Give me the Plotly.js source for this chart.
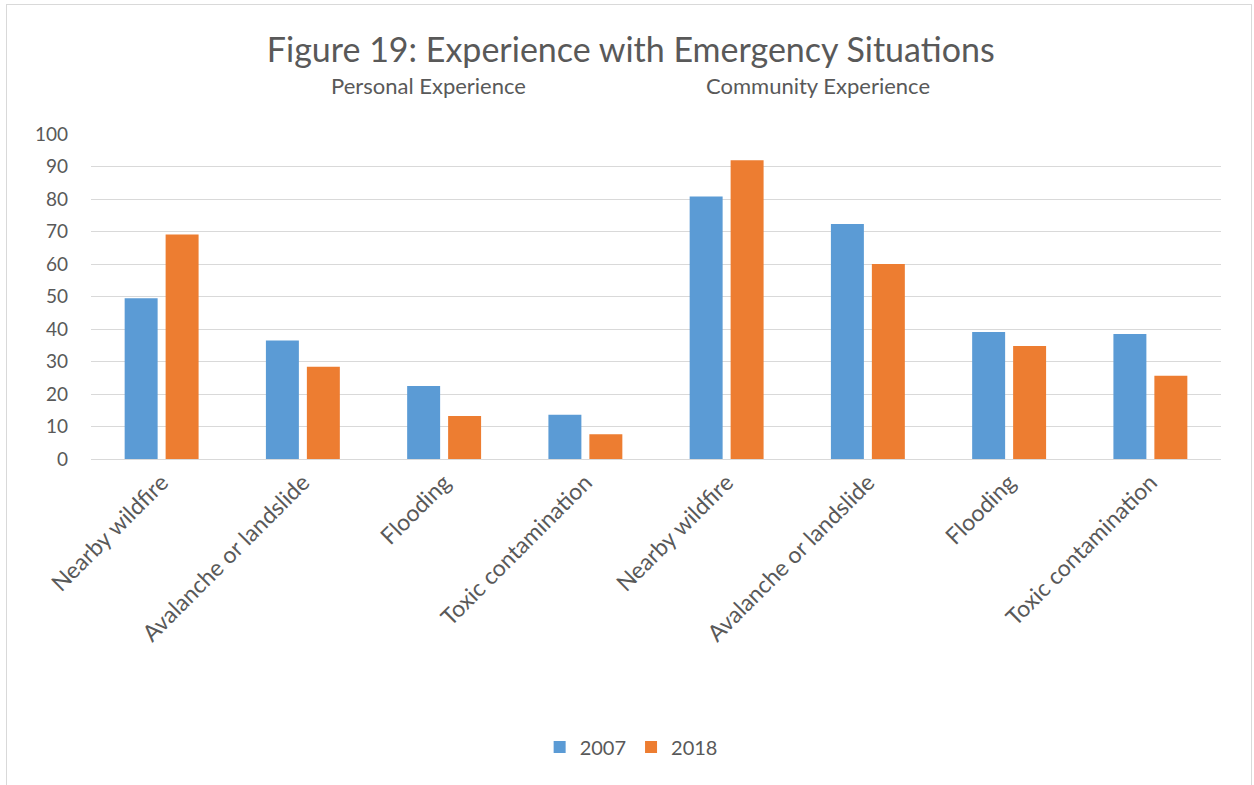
<!DOCTYPE html>
<html>
<head>
<meta charset="utf-8">
<script src="https://cdn.plot.ly/plotly-3.0.1.min.js"></script>
<style>
html,body{margin:0;padding:0;background:#fff;}
#chart{position:absolute;left:0;top:0;width:1254px;height:785px;}
#frame{position:absolute;left:6px;top:4px;width:1244px;height:790px;border:1px solid #d9d9d9;pointer-events:none;}
</style>
</head>
<body>
<div id="chart"></div>
<div id="frame"></div>
<script>
const groups = ["Personal", "Personal", "Personal", "Personal", "Community", "Community", "Community", "Community"];
const categories = ["Nearby wildfire", "Avalanche or landslide", "Flooding", "Toxic contamination",
                    "Nearby wildfire", "Avalanche or landslide", "Flooding", "Toxic contamination"];
const values2007 = [49.5, 36.5, 22.5, 13.6, 80.8, 72.3, 39.1, 38.5];
const values2018 = [69.1, 28.4, 13.2, 7.6, 91.9, 60.0, 34.8, 25.6];
const seriesNames = ["2007", "2018"];
const yTicks = [0, 10, 20, 30, 40, 50, 60, 70, 80, 90, 100];

const keys = categories.map((c, i) => groups[i] + " | " + c);
const txt = "#595959";
const font = "Lato, 'Open Sans', sans-serif";

const data = [
  {type: "bar", name: seriesNames[0], x: keys, y: values2007, marker: {color: "#5B9BD5"}},
  {type: "bar", name: seriesNames[1], x: keys, y: values2018, marker: {color: "#ED7D31"}}
];

const layout = {
  width: 1254, height: 785,
  margin: {l: 91, r: 33, t: 134, b: 326},
  paper_bgcolor: "#fff", plot_bgcolor: "#fff",
  font: {family: font, color: txt, size: 18},
  barmode: "group", bargap: 0.42, bargroupgap: 0.195,
  title: {text: "Figure 19: Experience with Emergency Situations", font: {size: 34, color: txt, family: font},
          x: 0.503, xanchor: "center", y: 1 - 50/785, yanchor: "middle", xref: "container", yref: "container"},
  xaxis: {type: "category", tickvals: keys, ticktext: categories, tickangle: -45,
          tickfont: {size: 23, color: txt}, showgrid: false, showline: true, linecolor: "#d9d9d9",
          ticks: "", fixedrange: true},
  yaxis: {range: [0, 100], tickvals: yTicks, showgrid: true, gridcolor: "#d9d9d9", gridwidth: 1,
          zeroline: true, zerolinecolor: "#d9d9d9", showline: false, ticks: "",
          tickfont: {size: 19, color: txt}, ticklabelstandoff: 22, fixedrange: true},
  showlegend: true,
  legend: {orientation: "h", x: 0.478, xanchor: "center", y: -(747 - 459) / 325, yanchor: "middle",
           font: {size: 20, color: txt}, itemwidth: 30, traceorder: "normal"},
  annotations: [
    {text: "Personal Experience", xref: "paper", yref: "paper", x: (428 - 91) / 1130, y: (459 - 85) / 325,
     xanchor: "center", yanchor: "middle", showarrow: false, font: {size: 22, color: txt}},
    {text: "Community Experience", xref: "paper", yref: "paper", x: (818 - 91) / 1130, y: (459 - 85) / 325,
     xanchor: "center", yanchor: "middle", showarrow: false, font: {size: 22, color: txt}}
  ]
};

Plotly.newPlot("chart", data, layout, {displayModeBar: false, staticPlot: true});
</script>
</body>
</html>
